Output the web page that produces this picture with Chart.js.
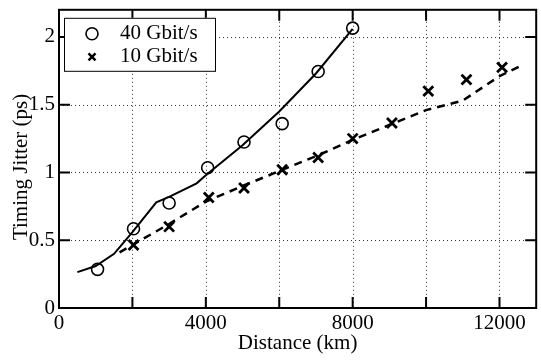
<!DOCTYPE html>
<html><head><meta charset="utf-8">
<script src="https://cdn.jsdelivr.net/npm/chart.js@4"></script>
<style>html,body{margin:0;padding:0;background:#fff;overflow:hidden;width:541px;height:360px}
#wrap{width:546px;height:360px;position:relative}</style></head>
<body><div id="wrap"><canvas id="c"></canvas></div>
<script>
const xTicks=[0,2000,4000,6000,8000,10000,12000];
const xLabelTicks=[0,4000,8000,12000];
const yTicks=[0,0.5,1,1.5,2];
const seriesNames=['40 Gbit/s','10 Gbit/s'];
const dist40=[1050,2030,3000,4050,5040,6080,7060,8000];
const jitter40=[0.285,0.585,0.775,1.035,1.225,1.36,1.745,2.065];
const dist10=[2030,3000,4080,5040,6080,7060,8000,9070,10060,11100,12070];
const jitter10=[0.465,0.60,0.815,0.885,1.02,1.11,1.25,1.365,1.60,1.685,1.775];
const fitDist40=[500,1000,1500,2000,2650,3000,3750,4000,5000,6000,7000,8000];
const fitJitter40=[0.265,0.31,0.40,0.56,0.78,0.82,0.92,0.98,1.20,1.45,1.73,2.06];
const fitDist10=[1650,2000,3000,4000,5000,6000,7000,8000,9000,10000,11000,12000,12600];
const fitJitter10=[0.41,0.465,0.62,0.785,0.90,1.01,1.12,1.24,1.35,1.46,1.53,1.71,1.79];

const FONT='"Liberation Serif", "Times New Roman", serif';
const pts=(xs,ys)=>xs.map((v,i)=>({x:v,y:ys[i]}));

const decor={id:'decor',
  beforeDatasetsDraw(chart){
    const {ctx,chartArea:a,scales:{x,y}}=chart;
    ctx.save();ctx.strokeStyle='#333';ctx.lineWidth=1;ctx.setLineDash([1,3]);
    xTicks.forEach(v=>{if(v===0)return;const p=Math.round(x.getPixelForValue(v))+0.5;
      ctx.beginPath();ctx.moveTo(p,a.top);ctx.lineTo(p,a.bottom);ctx.stroke();});
    yTicks.forEach(v=>{if(v===0)return;const p=Math.round(y.getPixelForValue(v))+0.5;
      ctx.beginPath();ctx.moveTo(a.left,p);ctx.lineTo(a.right,p);ctx.stroke();});
    ctx.restore();
  },
  afterDatasetsDraw(chart){
    const {ctx,chartArea:a,scales:{x,y}}=chart;
    ctx.save();ctx.strokeStyle='#000';ctx.lineWidth=2;ctx.setLineDash([]);
    ctx.strokeRect(a.left,a.top,a.right-a.left,a.bottom-a.top);
    const L=11;
    xTicks.forEach(v=>{if(v===0)return;const p=x.getPixelForValue(v);
      ctx.beginPath();ctx.moveTo(p,a.bottom);ctx.lineTo(p,a.bottom-L);
      ctx.moveTo(p,a.top);ctx.lineTo(p,a.top+L);ctx.stroke();});
    yTicks.forEach(v=>{if(v===0)return;const p=y.getPixelForValue(v);
      ctx.beginPath();ctx.moveTo(a.left,p);ctx.lineTo(a.left+L,p);
      ctx.moveTo(a.right,p);ctx.lineTo(a.right-L,p);ctx.stroke();});
    // legend
    const bx=a.left+5,by=a.top+8,bw=151,bh=53;
    ctx.fillStyle='#fff';ctx.fillRect(bx,by,bw,bh);
    ctx.lineWidth=1;ctx.strokeStyle='#000';ctx.strokeRect(bx+0.5,by+0.5,bw,bh);
    ctx.lineWidth=1.6;ctx.beginPath();ctx.arc(bx+28,by+16,6,0,Math.PI*2);ctx.stroke();
    ctx.lineWidth=2.5;const cx=bx+28,cy=by+39,s=3.5;
    ctx.beginPath();ctx.moveTo(cx-s,cy-s);ctx.lineTo(cx+s,cy+s);ctx.moveTo(cx+s,cy-s);ctx.lineTo(cx-s,cy+s);ctx.stroke();
    ctx.fillStyle='#000';ctx.font='21px '+FONT;ctx.textBaseline='middle';ctx.textAlign='left';
    ctx.fillText(seriesNames[0],bx+56,by+16);
    ctx.fillText(seriesNames[1],bx+56,by+39);
    // y title
    ctx.translate(27,167);ctx.rotate(-Math.PI/2);ctx.textAlign='center';ctx.textBaseline='alphabetic';
    ctx.fillText('Timing Jitter (ps)',0,0);
    ctx.restore();
  }
};

new Chart(document.getElementById('c'),{
  type:'scatter',
  data:{datasets:[
    {label:seriesNames[0],data:pts(dist40,jitter40),showLine:false,pointStyle:'circle',pointRadius:6,
     pointBorderWidth:1.6,pointBorderColor:'#000',pointBackgroundColor:'rgba(0,0,0,0)',order:1},
    {label:seriesNames[1],data:pts(dist10,jitter10),showLine:false,pointStyle:'crossRot',pointRadius:7,
     pointBorderWidth:2.8,pointBorderColor:'#000',order:2},
    {label:'fit40',data:pts(fitDist40,fitJitter40),showLine:true,pointRadius:0,borderColor:'#000',
     borderWidth:2,tension:0,order:3},
    {label:'fit10',data:pts(fitDist10,fitJitter10),showLine:true,pointRadius:0,borderColor:'#000',
     borderWidth:2.5,borderDash:[8,6],tension:0,order:4}
  ]},
  options:{
    responsive:true,maintainAspectRatio:false,animation:false,
    layout:{padding:{top:6,right:3,left:0,bottom:0}},
    plugins:{legend:{display:false},tooltip:{enabled:false}},
    scales:{
      x:{type:'linear',min:0,max:13000,
        afterBuildTicks:s=>{s.ticks=xTicks.map(v=>({value:v}));},
        afterFit:s=>{s.height=52;s.paddingLeft=0;s.paddingRight=0;},
        grid:{display:false},border:{display:false},
        ticks:{color:'#000',font:{family:FONT,size:21},padding:-5,maxRotation:0,autoSkip:false,
          callback:v=>xLabelTicks.includes(v)?String(v):''},
        title:{display:true,text:'Distance (km)',color:'#000',font:{family:FONT,size:21},padding:{top:0,bottom:4}}
      },
      y:{type:'linear',min:0,max:2.2,
        afterBuildTicks:s=>{s.ticks=yTicks.map(v=>({value:v}));},
        afterFit:s=>{s.width=59;s.paddingTop=0;s.paddingBottom=0;},
        grid:{display:false,drawTicks:false},border:{display:false},
        ticks:{color:'#000',font:{family:FONT,size:21},padding:4,autoSkip:false,callback:v=>String(v)}
      }
    }
  },
  plugins:[decor]
});
</script></body></html>
